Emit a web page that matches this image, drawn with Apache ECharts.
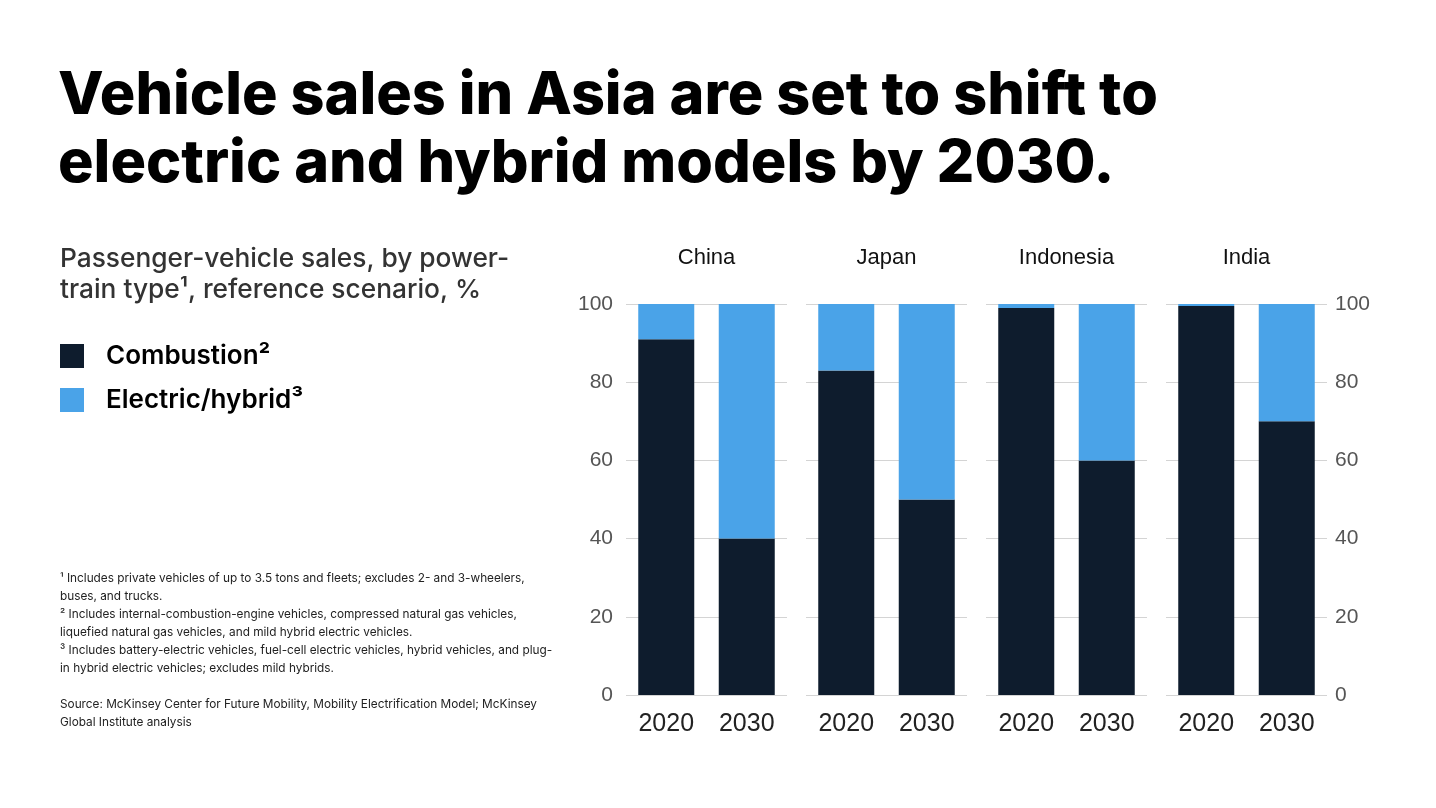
<!DOCTYPE html>
<html>
<head>
<meta charset="utf-8">
<script src="https://cdn.jsdelivr.net/npm/echarts@6/dist/echarts.min.js"></script>
<style>
html,body{margin:0;padding:0;background:#fff;}
#chart{width:1436px;height:808px;}
</style>
</head>
<body>
<div id="chart"></div>
<script>
const countries = ['China', 'Japan', 'Indonesia', 'India'];
const years = ['2020', '2030'];
const combustion = [[91, 40], [83, 50], [99, 60], [99.5, 70]];
const electric = [[9, 60], [17, 50], [1, 40], [0.5, 30]];
const seriesNames = ['Combustion²', 'Electric/hybrid³'];
const yMin = 0, yMax = 100, yStep = 20;

const titleLines = ['Vehicle sales in Asia are set to shift to', 'electric and hybrid models by 2030.'];
const subtitleLines = ['Passenger-vehicle sales, by power-', 'train type¹, reference scenario, %'];
const footnotes = [
  '¹ Includes private vehicles of up to 3.5 tons and fleets; excludes 2- and 3-wheelers,',
  'buses, and trucks.',
  '² Includes internal-combustion-engine vehicles, compressed natural gas vehicles,',
  'liquefied natural gas vehicles, and mild hybrid electric vehicles.',
  '³ Includes battery-electric vehicles, fuel-cell electric vehicles, hybrid vehicles, and plug-',
  'in hybrid electric vehicles; excludes mild hybrids.'
];
const sourceLines = [
  'Source: McKinsey Center for Future Mobility, Mobility Electrification Model; McKinsey',
  'Global Institute analysis'
];

const COL_DARK = '#0e1c2d';
const COL_BLUE = '#4aa3e8';
const AXIS_FONT = '"Liberation Sans", Arial, sans-serif';
const TEXT_FONT = 'Inter, "Noto Sans", sans-serif';

const gridLeft0 = 626, gridStep = 180, gridW = 161, gridTop = 304, gridH = 391;

const grids = [], xAxes = [], yAxes = [], series = [], graphics = [];
countries.forEach((c, i) => {
  grids.push({left: gridLeft0 + gridStep * i, top: gridTop, width: gridW, height: gridH});
  xAxes.push({
    type: 'category', gridIndex: i, data: years,
    axisLine: {show: false}, axisTick: {show: false},
    axisLabel: {fontFamily: AXIS_FONT, fontSize: 25, color: '#222', margin: 17}
  });
  yAxes.push({
    type: 'value', gridIndex: i, min: yMin, max: yMax, interval: yStep,
    position: i === 3 ? 'right' : 'left',
    axisLine: {show: false}, axisTick: {show: false},
    splitLine: {lineStyle: {color: '#d4d4d4', width: 1}},
    axisLabel: {show: i === 0 || i === 3, fontFamily: AXIS_FONT, fontSize: 21, color: '#555', margin: i === 3 ? 8 : 13}
  });
  series.push({
    name: seriesNames[0], type: 'bar', stack: 's' + i, xAxisIndex: i, yAxisIndex: i,
    barWidth: 56, data: combustion[i], itemStyle: {color: COL_DARK}, silent: true
  });
  series.push({
    name: seriesNames[1], type: 'bar', stack: 's' + i, xAxisIndex: i, yAxisIndex: i,
    barWidth: 56, data: electric[i], itemStyle: {color: COL_BLUE}, silent: true
  });
  graphics.push({
    type: 'text', x: gridLeft0 + gridStep * i + gridW / 2, y: 258,
    style: {text: c, font: '22px ' + AXIS_FONT, fill: '#111', textAlign: 'center', textVerticalAlign: 'middle'}
  });
});

titleLines.forEach((t, k) => {
  graphics.push({type: 'text', x: 58, y: 96 + 68 * k,
    style: {text: t, font: '800 59.3px ' + TEXT_FONT, fill: '#000', textAlign: 'left', textVerticalAlign: 'middle'}});
});
subtitleLines.forEach((t, k) => {
  graphics.push({type: 'text', x: 60, y: 259 + 31 * k,
    style: {text: t, font: '500 26.3px ' + TEXT_FONT, fill: '#333', textAlign: 'left', textVerticalAlign: 'middle'}});
});
footnotes.forEach((t, k) => {
  graphics.push({type: 'text', x: 60, y: 578 + 18 * k,
    style: {text: t, font: '11.8px ' + TEXT_FONT, fill: '#222', textAlign: 'left', textVerticalAlign: 'middle'}});
});
sourceLines.forEach((t, k) => {
  graphics.push({type: 'text', x: 60, y: 704 + 18 * k,
    style: {text: t, font: '11.8px ' + TEXT_FONT, fill: '#222', textAlign: 'left', textVerticalAlign: 'middle'}});
});

const chart = echarts.init(document.getElementById('chart'), null, {renderer: 'canvas'});
chart.setOption({
  backgroundColor: '#fff',
  animation: false,
  legend: {
    left: 60, top: 343, orient: 'vertical', itemWidth: 24, itemHeight: 24, itemGap: 18,
    icon: 'rect', selectedMode: false, padding: 0,
    data: seriesNames,
    textStyle: {fontFamily: TEXT_FONT, fontSize: 26, fontWeight: 600, color: '#000', padding: [0, 0, 0, 17]}
  },
  grid: grids, xAxis: xAxes, yAxis: yAxes, series: series,
  graphic: graphics
});
</script>
</body>
</html>
